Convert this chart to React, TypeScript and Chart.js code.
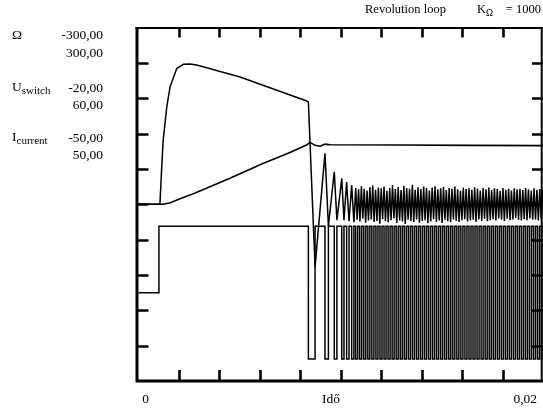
import { useEffect, useRef } from "react";
import { Chart, registerables } from "chart.js";

Chart.register(...registerables);

// ---------- axis ranges ----------
const X_MIN = 0;
const X_MAX = 0.02;
const X_DIVISIONS = 10;
const Y_DIVISIONS = 10;
const OMEGA_MIN = -300;
const OMEGA_MAX = 300;
const SWITCH_MIN = -20;
const SWITCH_MAX = 60;
const CURRENT_MIN = -50;
const CURRENT_MAX = 50;

// ---------- texts ----------
const titleText = "Revolution loop";
const titleK = "K";
const titleKSub = "Ω";
const titleKValue = "= 1000";
const xStartLabel = "0";
const xAxisName = "Idő";
const xEndLabel = "0,02";
const legendNames = ["Ω", "U", "I"];
const legendSubs = ["", "switch", "current"];
const legendMins = ["-300,00", "-20,00", "-50,00"];
const legendMaxs = ["300,00", "60,00", "50,00"];

// ---------- Ω (revolution) ----------
const speedTime = [0, 0.00121, 0.00158, 0.00205, 0.00254, 0.00289, 0.00452, 0.00615, 0.00749, 0.00833, 0.00848, 0.00873, 0.00898, 0.00922, 0.00947, 0.01294, 0.0164, 0.02];
const speedValue = [0, 0, 2.5, 9.5, 15.5, 20.5, 44, 69, 88, 101, 105, 100, 98.5, 102, 101, 100.5, 100, 99.5];

// ---------- I current (start-up transient) ----------
const currentTime = [0, 0.00106, 0.00114, 0.00122, 0.0014, 0.00156, 0.00189, 0.00222, 0.00255, 0.00288, 0.00502, 0.00832, 0.0084, 0.00873, 0.00922, 0.00939, 0.00968, 0.00981, 0.01005, 0.01016, 0.01029, 0.01041, 0.01054, 0.01065];
const currentValue = [0, 0, 9.6, 18.1, 27.6, 33.2, 38.4, 39.6, 39.7, 39.4, 36, 29.2, 28.9, -17.8, 14.4, -6.2, 9.2, -4.5, 7.3, -4.5, 6.3, -4.8, 5.4, -5.1];

// ---------- U switch (start-up transient) ----------
const switchTime = [0, 0.00101, 0.0084, 0.00873, 0.00922, 0.00939, 0.00968, 0.00981, 0.01005, 0.01016, 0.01029, 0.01041, 0.01054, 0.01065];
const switchValue = [0, 15, -15, 15, -15, 15, -15, 15, -15, 15, -15, 15, -15, 15];

// ---------- steady-state samples (uniform sampling) ----------
const STEADY_T0 = 0.01074;
const CURRENT_DT = 0.00007;
const SWITCH_DT = 0.0001;
const steadyCurrent = [
  4.6, -4.4, 4.2, -4.9, 5.1, -4.1, 4.4, -5.2, 3.9, -4.6, 4.8, -4.3, 5.3, -5.0, 4.1, -4.7, 4.7, -5.5, 4.5, -4.2,
  5.0, -4.8, 3.8, -5.1, 4.6, -4.5, 5.4, -4.0, 4.3, -5.3, 4.9, -4.6, 4.0, -4.9, 5.2, -5.6, 4.6, -4.4, 4.4, -4.8,
  5.5, -5.0, 4.1, -4.3, 4.8, -5.2, 4.3, -4.7, 5.0, -4.5, 4.6, -5.4, 3.9, -4.9, 4.7, -4.2, 5.1, -5.0, 4.2, -4.6,
  4.5, -5.3, 4.9, -4.4, 4.0, -4.8, 4.6, -5.1, 4.4, -4.3, 5.0, -4.7, 4.2, -5.0, 3.8, -4.5, 4.7, -4.2, 4.3, -4.9,
  4.5, -4.6, 4.1, -4.4, 4.8, -5.0, 4.4, -4.3, 3.9, -4.7, 4.6, -4.1, 4.2, -4.8, 4.7, -4.5, 4.0, -4.2, 4.5, -4.6,
  4.3, -4.0, 3.8, -4.4, 4.6, -4.7, 4.1, -4.1, 4.4, -4.5, 3.9, -4.3, 4.5, -3.9, 4.2, -4.4, 4.4, -4.6, 4.0, -4.2,
  4.6, -4.5, 4.2, -4.0, 3.9, -4.4, 4.5, -4.3, 4.1, -4.6, 4.3, -4.1, 4.0, -4.3,
];
const steadySwitch = [
  -15, 15, -15, 15, -15, 15, -15, 15, -15, 15, -15, 15, -15, 15, -15, 15, -15, 15, -15, 15,
  -15, 15, -15, 15, -15, 15, -15, 15, -15, 15, -15, 15, -15, 15, -15, 15, -15, 15, -15, 15,
  -15, 15, -15, 15, -15, 15, -15, 15, -15, 15, -15, 15, -15, 15, -15, 15, -15, 15, -15, 15,
  -15, 15, -15, 15, -15, 15, -15, 15, -15, 15, -15, 15, -15, 15, -15, 15, -15, 15, -15, 15,
  -15, 15, -15, 15, -15, 15, -15, 15, -15, 15, -15, 15, -15, 15,
];

const SERIF = '"Liberation Serif", "Times New Roman", serif';

function pairs(t: number[], v: number[]) {
  return t.map((x, i) => ({ x, y: v[i] }));
}
function sampled(v: number[], dt: number) {
  return v.map((y, i) => ({ x: STEADY_T0 + i * dt, y }));
}

const framePlugin = {
  id: "scopeFrame",
  afterDraw(chart: any) {
    const ctx = chart.ctx as CanvasRenderingContext2D;
    const { left, right, top, bottom } = chart.chartArea;
    const xs = chart.scales.x;
    const ys = chart.scales.yOmega;
    ctx.save();
    ctx.strokeStyle = "#000";
    ctx.fillStyle = "#000";
    ctx.lineCap = "butt";

    // frame
    ctx.lineWidth = 3;
    ctx.beginPath();
    ctx.moveTo(left - 1.5, top - 0.5);
    ctx.lineTo(left - 1.5, bottom + 1.5);
    ctx.moveTo(left - 3, bottom);
    ctx.lineTo(right, bottom);
    ctx.stroke();
    ctx.lineWidth = 2;
    ctx.beginPath();
    ctx.moveTo(left - 3, top + 0.5);
    ctx.lineTo(right, top + 0.5);
    ctx.moveTo(right - 1.3, top);
    ctx.lineTo(right - 1.3, bottom);
    ctx.stroke();

    // inward ticks
    ctx.lineWidth = 2.6;
    ctx.beginPath();
    for (let i = 1; i < X_DIVISIONS; i++) {
      const px = Math.round(xs.getPixelForValue(X_MIN + (i * (X_MAX - X_MIN)) / X_DIVISIONS)) + 0.5;
      ctx.moveTo(px, bottom);
      ctx.lineTo(px, bottom - 11);
      ctx.moveTo(px, top);
      ctx.lineTo(px, top + 10);
    }
    for (let i = 1; i < Y_DIVISIONS; i++) {
      const py = Math.round(ys.getPixelForValue(OMEGA_MIN + (i * (OMEGA_MAX - OMEGA_MIN)) / Y_DIVISIONS)) + 0.5;
      ctx.moveTo(left - 1, py);
      ctx.lineTo(left + 10, py);
      ctx.moveTo(right, py);
      ctx.lineTo(right - 11, py);
    }
    ctx.stroke();

    // left legend of ranges
    const rowBase = [38.5, 91, 141];
    ctx.textBaseline = "alphabetic";
    for (let r = 0; r < 3; r++) {
      const b = rowBase[r];
      ctx.font = `13.5px ${SERIF}`;
      ctx.textAlign = "left";
      ctx.fillText(legendNames[r], 12, b);
      if (legendSubs[r]) {
        const w = ctx.measureText(legendNames[r]).width;
        ctx.font = `11px ${SERIF}`;
        ctx.fillText(legendSubs[r], 12 + w, b + 2.5);
      }
      ctx.font = `13.5px ${SERIF}`;
      ctx.textAlign = "right";
      ctx.fillText(legendMins[r], 103, b + 0.5);
      ctx.fillText(legendMaxs[r], 103, b + 18);
    }

    // title
    ctx.font = `12.5px ${SERIF}`;
    ctx.textAlign = "left";
    ctx.fillText(titleText, 365, 13);
    ctx.fillText(titleK, 477, 13);
    const kw = ctx.measureText(titleK).width;
    ctx.font = `9.5px ${SERIF}`;
    ctx.fillText(titleKSub, 477 + kw, 16);
    ctx.font = `12.5px ${SERIF}`;
    ctx.textAlign = "right";
    ctx.fillText(titleKValue, 541, 13);

    // x axis labels
    ctx.font = `13.5px ${SERIF}`;
    ctx.textAlign = "center";
    ctx.fillText(xStartLabel, xs.getPixelForValue(X_MIN) + 7, 403);
    ctx.fillText(xAxisName, 331, 403);
    ctx.textAlign = "right";
    ctx.fillText(xEndLabel, 537, 403);
    ctx.restore();
  },
};

export default function App() {
  const ref = useRef<HTMLCanvasElement | null>(null);
  useEffect(() => {
    if (!ref.current) return;
    const chart = new Chart(ref.current, {
      type: "line",
      data: {
        datasets: [
          {
            label: "Ω",
            data: pairs(speedTime, speedValue),
            yAxisID: "yOmega",
            borderColor: "#000",
            borderWidth: 1.6,
            pointRadius: 0,
            tension: 0,
          },
          {
            label: "U switch",
            data: pairs(switchTime, switchValue).concat(sampled(steadySwitch, SWITCH_DT)),
            yAxisID: "ySwitch",
            borderColor: "#000",
            borderWidth: 1.5,
            pointRadius: 0,
            stepped: "before",
          },
          {
            label: "I current",
            data: pairs(currentTime, currentValue).concat(sampled(steadyCurrent, CURRENT_DT)),
            yAxisID: "yCurrent",
            borderColor: "#000",
            borderWidth: 1.5,
            pointRadius: 0,
            tension: 0,
          },
        ],
      },
      options: {
        responsive: false,
        animation: false,
        devicePixelRatio: 1,
        events: [],
        layout: { padding: { left: 138.5, right: 0, top: 27.5, bottom: 29 } },
        scales: {
          x: { type: "linear", min: X_MIN, max: X_MAX, display: false },
          yOmega: { type: "linear", min: OMEGA_MIN, max: OMEGA_MAX, display: false },
          ySwitch: { type: "linear", min: SWITCH_MIN, max: SWITCH_MAX, display: false },
          yCurrent: { type: "linear", min: CURRENT_MIN, max: CURRENT_MAX, display: false },
        },
        plugins: { legend: { display: false }, tooltip: { enabled: false } },
      },
      plugins: [framePlugin],
    } as any);
    return () => chart.destroy();
  }, []);
  return (
    <div style={{ position: "fixed", left: 0, top: 0, width: 543, height: 410, background: "#fff" }}>
      <canvas ref={ref} width={543} height={410} />
    </div>
  );
}
